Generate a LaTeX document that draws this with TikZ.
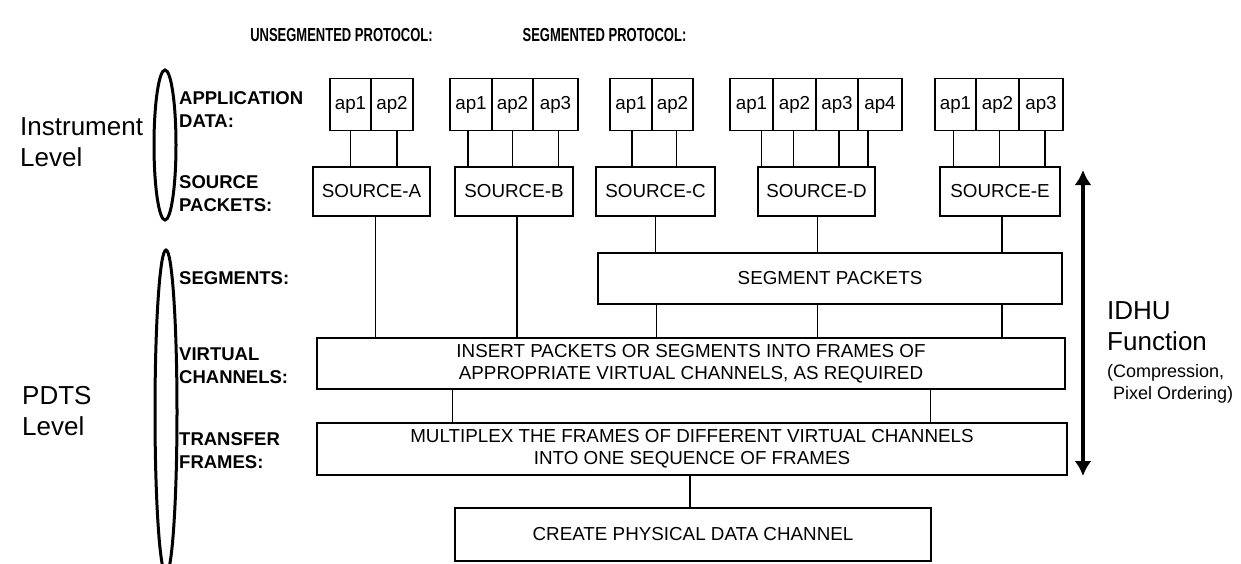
\documentclass[tikz,border=0pt]{standalone}
\usepackage{fontspec}
\setmainfont{Liberation Sans}
\usetikzlibrary{arrows.meta,calc}
\tikzset{
 box/.style={draw, line width=1.6pt, inner sep=0pt, font=\fontsize{18.8}{22}\selectfont, align=center},
 apcell/.style={box, minimum height=52},
 src/.style={box, minimum height=49},
 conn/.style={line width=1.3pt},
 lbl/.style={anchor=west, align=left, inner sep=0pt, font=\bfseries\fontsize{18.5}{23}\selectfont},
 big/.style={anchor=west, align=left, inner sep=0pt, font=\fontsize{26}{31}\selectfont},
 small/.style={anchor=west, align=left, inner sep=0pt, font=\fontsize{18}{22}\selectfont},
 ttl/.style={inner sep=0pt, font=\bfseries\fontsize{13}{15}\selectfont},
 lvl/.style={draw, line width=3pt},
}
\begin{document}
\begin{tikzpicture}[x=1pt,y=-1pt]
\useasboundingbox (0,0) rectangle (1241,563);
% titles
\node[ttl] (t1) at (341.5,35.5) {\scalebox{1}[1.45]{UNSEGMENTED PROTOCOL:}};
\node[ttl] (t2) at (604.5,35.5) {\scalebox{1}[1.45]{SEGMENTED PROTOCOL:}};
% level ellipses
\begin{scope}
\clip (0,0) rectangle (1241,563);
\draw[lvl] (165,145) ellipse [x radius=11, y radius=75];
\draw[lvl] (166,412) ellipse [x radius=11, y radius=162];
\end{scope}
\node[big] (instr) at (20,142) {Instrument\\Level};
\node[big] (pdts) at (22,411) {PDTS\\Level};
% row labels
\node[lbl] (lapp) at (179,109.5) {APPLICATION\\DATA:};
\node[lbl] (lsrc) at (179,193.5) {SOURCE\\PACKETS:};
\node[lbl] (lseg) at (179,278) {SEGMENTS:};
\node[lbl] (lvc) at (179,366) {VIRTUAL\\CHANNELS:};
\node[lbl] (ltf) at (179,451) {TRANSFER\\FRAMES:};
% application data cells
\node[apcell, minimum width=41] (A1) at (350.5,104.5) {ap1};
\node[apcell, minimum width=42] (A2) at (392,104.5) {ap2};
\node[apcell, minimum width=42] (B1) at (471,104.5) {ap1};
\node[apcell, minimum width=41] (B2) at (512.5,104.5) {ap2};
\node[apcell, minimum width=45] (B3) at (555.5,104.5) {ap3};
\node[apcell, minimum width=42] (C1) at (631,104.5) {ap1};
\node[apcell, minimum width=41] (C2) at (672.5,104.5) {ap2};
\node[apcell, minimum width=43] (D1) at (751.5,104.5) {ap1};
\node[apcell, minimum width=43] (D2) at (794.5,104.5) {ap2};
\node[apcell, minimum width=42] (D3) at (837,104.5) {ap3};
\node[apcell, minimum width=44] (D4) at (880,104.5) {ap4};
\node[apcell, minimum width=41] (E1) at (955.5,104.5) {ap1};
\node[apcell, minimum width=43] (E2) at (997.5,104.5) {ap2};
\node[apcell, minimum width=44] (E3) at (1041,104.5) {ap3};
% source packets
\node[src, minimum width=117] (sA) at (371.5,191.5) {SOURCE-A};
\node[src, minimum width=118] (sB) at (514,191.5) {SOURCE-B};
\node[src, minimum width=119] (sC) at (655.5,191.5) {SOURCE-C};
\node[src, minimum width=117] (sD) at (816.5,191.5) {SOURCE-D};
\node[src, minimum width=120] (sE) at (1000,191.5) {SOURCE-E};
% lower boxes
\node[box, minimum width=464, minimum height=51] (seg) at (830,278.5) {SEGMENT PACKETS};
\node[box, minimum width=748, minimum height=51] (virt) at (691,363.5) {INSERT PACKETS OR SEGMENTS INTO FRAMES OF\\APPROPRIATE VIRTUAL CHANNELS, AS REQUIRED};
\node[box, minimum width=750, minimum height=52] (trans) at (692,449) {MULTIPLEX THE FRAMES OF DIFFERENT VIRTUAL CHANNELS\\INTO ONE SEQUENCE OF FRAMES};
\node[box, minimum width=476, minimum height=53] (phys) at (693,534.5) {CREATE PHYSICAL DATA CHANNEL};
% ap -> source connectors
\foreach \c/\s/\dx in {A1/sA/0, A2/sA/5, B1/sB/-3, B2/sB/0, B3/sB/3, C1/sC/1, C2/sC/4, D1/sD/10, D2/sD/-1, D3/sD/2, D4/sD/-12, E1/sE/-2, E2/sE/2, E3/sE/4}
  \draw[conn] ([xshift=\dx]\c.south) -- ([xshift=\dx]\c.south |- \s.north);
% source -> lower
\draw[conn] ([xshift=4]sA.south) -- ([xshift=4]sA.south |- virt.north);
\draw[conn] ([xshift=3]sB.south) -- ([xshift=3]sB.south |- virt.north);
\draw[conn] (sC.south) -- (sC.south |- seg.north);
\draw[conn] ([xshift=1]sD.south) -- ([xshift=1]sD.south |- seg.north);
\draw[conn] ([xshift=2]sE.south) -- ([xshift=2]sE.south |- seg.north);
% segment -> virtual
\draw[conn] ([xshift=1]sC.south |- seg.south) -- ([xshift=1]sC.south |- virt.north);
\draw[conn] ([xshift=1]sD.south |- seg.south) -- ([xshift=1]sD.south |- virt.north);
\draw[conn] ([xshift=2]sE.south |- seg.south) -- ([xshift=2]sE.south |- virt.north);
% virtual -> transfer
\coordinate (v1) at ($(virt.south west)!0.182!(virt.south east)$);
\coordinate (v2) at ($(virt.south west)!0.8195!(virt.south east)$);
\draw[conn] (v1) -- (v1 |- trans.north);
\draw[conn] (v2) -- (v2 |- trans.north);
% transfer -> physical
\draw[conn] ([xshift=-2]trans.south) -- ([xshift=-2]trans.south |- phys.north);
% IDHU arrow
\coordinate (arT) at (1083,170);
\coordinate (arB) at (1083,476);
\draw[line width=4pt, {Latex[length=15pt,width=17pt]}-{Latex[length=15pt,width=17pt]}] (arT) -- (arB);
\node[big] (idhu) at (1107,326) {IDHU\\Function};
\node[small] (comp) at (1107,384) {(Compression,\\\hspace*{6pt}Pixel Ordering)};
\end{tikzpicture}
\end{document}
